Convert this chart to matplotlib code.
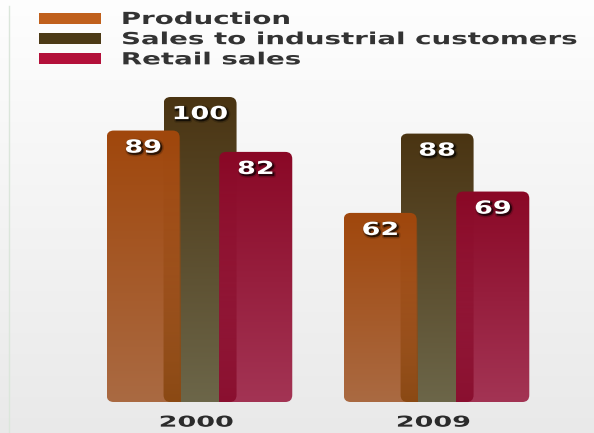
import numpy as np
import matplotlib
matplotlib.use('Agg')
import matplotlib.pyplot as plt
from matplotlib.patches import FancyBboxPatch, Patch
from matplotlib.lines import Line2D
from matplotlib.transforms import Affine2D
from matplotlib import patheffects
from matplotlib.colors import to_rgb

years = ['2000', '2009']
series = ['Production', 'Sales to industrial customers', 'Retail sales']
production = [89, 62]
industrial = [100, 88]
retail = [82, 69]

top_colors = ['#a0470c', '#4a3412', '#8a0826']
bottom_colors = ['#aa6a42', '#6c6649', '#a33454']
shade_colors = ['#8b4a14', None, '#8b1030']
legend_colors = ['#c0601c', '#4c3a16', '#b3103a']


class Wide(patheffects.AbstractPathEffect):
    """Draws text glyphs stretched horizontally, optionally with a soft shadow."""

    def __init__(self, sx, anchor='left', shadow=False):
        super().__init__()
        self.sx = sx
        self.anchor = anchor
        self.shadow = shadow

    def draw_path(self, renderer, gc, tpath, affine, rgbFace=None):
        ext = tpath.get_extents()
        cx = ext.x0 if self.anchor == 'left' else 0.5 * (ext.x0 + ext.x1)
        aff = Affine2D().translate(-cx, 0).scale(self.sx, 1).translate(cx, 0) + affine
        if self.shadow:
            for dx, dy, lw, a in [(1.5, -1.5, 3.0, 0.18), (1.5, -1.5, 1.0, 0.45)]:
                gc0 = renderer.new_gc()
                gc0.copy_properties(gc)
                gc0.set_foreground((0, 0, 0))
                gc0.set_linewidth(lw)
                gc0.set_alpha(a)
                renderer.draw_path(gc0, tpath, aff + Affine2D().translate(dx, dy), (0, 0, 0))
                gc0.restore()
        renderer.draw_path(gc, tpath, aff, rgbFace)


W, H = 594, 433
fig = plt.figure(figsize=(W / 100, H / 100), dpi=100)
ax = fig.add_axes([0, 0, 1, 1])
xlim = (-0.844, 1.662)
ylim = (-10.16, 131.8)

# soft white-to-grey background
bg = np.linspace(0.915, 0.995, 256)[:, None, None] * np.ones((1, 1, 3))
ax.imshow(bg, extent=(*xlim, *ylim), origin='lower', aspect='auto', zorder=0,
          interpolation='bilinear')

width = 0.308
offsets = [-0.24, 0.0, 0.235]
aspect = ((ylim[1] - ylim[0]) / H) / ((xlim[1] - xlim[0]) / W)
radius = 7 / W * (xlim[1] - xlim[0])


def gradient(c_bot, c_top, a_bot=1.0, a_top=1.0):
    t = np.linspace(0, 1, 256)[:, None]
    rgb = (1 - t) * np.array(to_rgb(c_bot)) + t * np.array(to_rgb(c_top))
    alpha = (1 - t) * a_bot + t * a_top
    return np.concatenate([rgb, alpha], axis=1)[:, None, :]


def bar_patch(x, v, z):
    p = FancyBboxPatch((x - width / 2, 0), width, v,
                       boxstyle=f'round,pad=0,rounding_size={radius}',
                       mutation_aspect=aspect, fc='none', ec='none', zorder=z)
    ax.add_patch(p)
    return p


values = [production, industrial, retail]
zorders = [3, 2, 3]
for g in range(len(years)):
    patches = []
    for s in range(3):
        x = g + offsets[s]
        v = values[s][g]
        p = bar_patch(x, v, zorders[s])
        im = ax.imshow(gradient(bottom_colors[s], top_colors[s]),
                       extent=(x - width / 2, x + width / 2, 0, v), origin='lower',
                       aspect='auto', zorder=zorders[s], interpolation='bilinear')
        im.set_clip_path(p)
        patches.append(p)
    # darker band where the front bars cover the middle one
    for s in (0, 2):
        x = g + offsets[s]
        v = values[s][g]
        im = ax.imshow(gradient(shade_colors[s], top_colors[s], 1.0, 0.0),
                       extent=(x - width / 2, x + width / 2, 0, v), origin='lower',
                       aspect='auto', zorder=3.1, interpolation='bilinear')
        im.set_clip_path(patches[1])
    for s in range(3):
        x = g + offsets[s]
        v = values[s][g]
        ax.text(x, v - 5.6, str(v), ha='center', va='center', color='white',
                fontsize=13, fontweight='bold', zorder=5,
                path_effects=[Wide(1.5, 'center', shadow=True)])
    ax.text(g - 0.015, -6.6, years[g], ha='center', va='center', color='#2b2b2b',
            fontsize=10.8, fontweight='bold', zorder=5,
            path_effects=[Wide(1.8, 'center')])

ax.set_xlim(*xlim)
ax.set_ylim(*ylim)
ax.axis('off')

handles = [Patch(fc=c, ec='none') for c in legend_colors]
leg = ax.legend(handles, series, loc='upper left', bbox_to_anchor=(39 / W, 1 - 10 / H),
                bbox_transform=fig.transFigure, frameon=False,
                prop={'size': 12, 'weight': 'bold'}, handlelength=3.71,
                handleheight=0.66, handletextpad=1.26, labelspacing=0.13,
                borderpad=0, borderaxespad=0)
for t in leg.get_texts():
    t.set_color('#333333')
    t.set_path_effects([Wide(1.66, 'left')])

fig.add_artist(Line2D([9 / W, 9 / W], [0, 1 - 6 / H], transform=fig.transFigure,
                      color='#dbe6db', lw=1))

fig.savefig('out.png', dpi=100)
